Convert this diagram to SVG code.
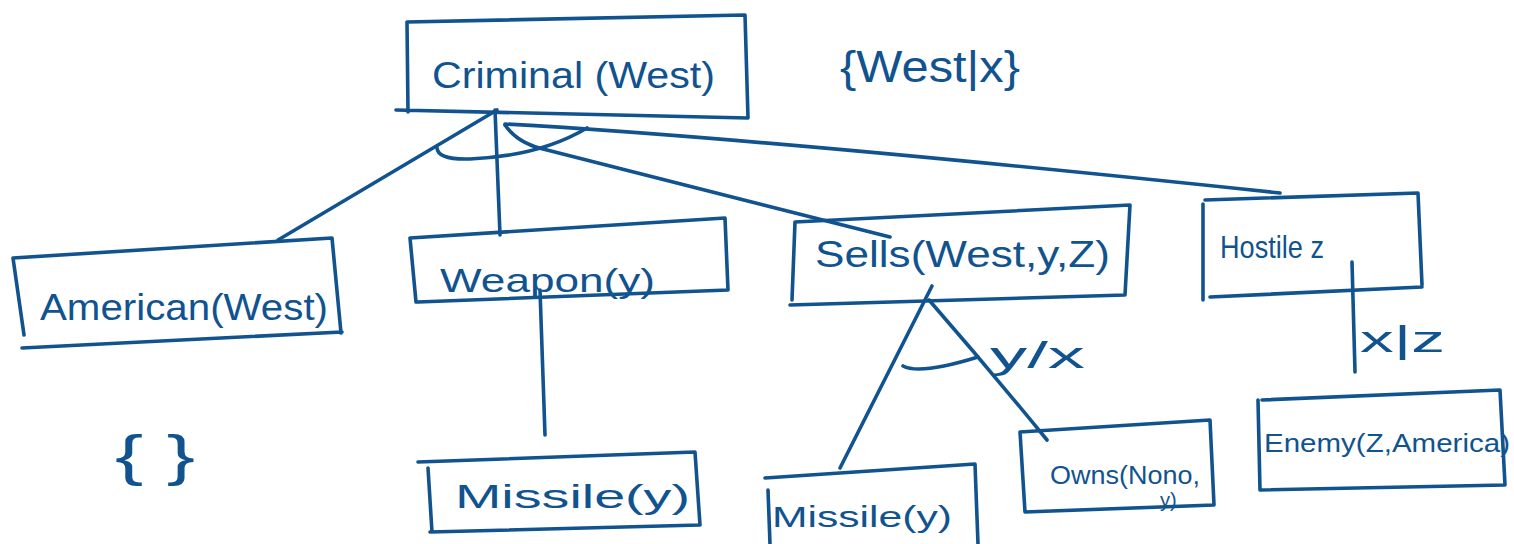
<svg xmlns="http://www.w3.org/2000/svg" width="1514" height="544" viewBox="0 0 1514 544">
  <style>
    .ink { fill: none; stroke: #11538f; stroke-width: 3.6; stroke-linecap: round; stroke-linejoin: round; }
    .lbl { fill: #11538f; font-family: "Liberation Sans", "DejaVu Sans", sans-serif; }
  </style>
  <rect width="1514" height="544" fill="#ffffff"/>

  <!-- connectors -->
  <g id="connectors" class="ink">
    <!-- Criminal(West) to its four conjuncts -->
    <path d="M497,110 L278,240"/>
    <path d="M495,110 L500,235"/>
    <path d="M505,125 Q518,144 547,150 L890,237"/>
    <path d="M505,124 Q760,138 1280,193"/>
    <!-- AND arc -->
    <path d="M437,148 Q438,160 470,159 Q540,156 587,128"/>
    <!-- Weapon(y) to Missile(y) -->
    <path d="M540,290 L545,435"/>
    <!-- Sells to Missile(y) and Owns(Nono,y) -->
    <path d="M932,286 L840,468"/>
    <path d="M929,300 Q990,370 1047,440"/>
    <path d="M903,366 Q920,375 978,357"/>
    <!-- Hostile z to Enemy -->
    <path d="M1352,262 L1355,372"/>
  </g>

  <g id="criminal">
    <path class="ink" d="M407,22 L745,15 L748,118 M396,110 L748,118 M407,22 L408,112"/>
    <text class="lbl" x="432" y="88" font-size="36" textLength="283" lengthAdjust="spacingAndGlyphs">Criminal (West)</text>
  </g>

  <g id="subst-top">
    <text class="lbl" x="840" y="82" font-size="44" textLength="180" lengthAdjust="spacingAndGlyphs">{West|x}</text>
  </g>

  <g id="american">
    <path class="ink" d="M13,258 L332,238 L341,333 M22,348 L342,332 M13,258 L24,335"/>
    <text class="lbl" x="40" y="320" font-size="36" textLength="288" lengthAdjust="spacingAndGlyphs">American(West)</text>
  </g>

  <g id="weapon">
    <path class="ink" d="M410,238 L725,218 L728,290 M418,302 L728,290 M410,238 L416,302"/>
    <text class="lbl" x="440" y="292" font-size="34" textLength="215" lengthAdjust="spacingAndGlyphs">Weapon(y)</text>
  </g>

  <g id="sells">
    <path class="ink" d="M795,222 L1130,205 L1125,295 M790,305 L1125,295 M795,222 L792,300"/>
    <text class="lbl" x="815" y="267" font-size="36" textLength="295" lengthAdjust="spacingAndGlyphs">Sells(West,y,Z)</text>
  </g>

  <g id="hostile">
    <path class="ink" d="M1205,200 L1418,193 L1422,285 M1210,297 L1422,287 M1203,204 L1203,300"/>
    <text class="lbl" x="1220" y="258" font-size="32" textLength="104" lengthAdjust="spacingAndGlyphs">Hostile z</text>
  </g>

  <g id="subst-empty">
    <text class="lbl" x="115" y="474" font-size="56" textLength="80" lengthAdjust="spacingAndGlyphs">{ }</text>
  </g>

  <g id="missile-1">
    <path class="ink" d="M418,462 L695,452 L700,525 M430,532 L700,525 M428,468 L432,532"/>
    <text class="lbl" x="455" y="508" font-size="34" textLength="235" lengthAdjust="spacingAndGlyphs">Missile(y)</text>
  </g>

  <g id="subst-yx">
    <text class="lbl" x="990" y="368" font-size="36" textLength="95" lengthAdjust="spacingAndGlyphs">y/x</text>
  </g>

  <g id="missile-2">
    <path class="ink" d="M765,478 L975,464 L978,544 M768,490 L770,544"/>
    <text class="lbl" x="772" y="527" font-size="30" textLength="180" lengthAdjust="spacingAndGlyphs">Missile(y)</text>
  </g>

  <g id="owns">
    <path class="ink" d="M1020,432 L1210,420 L1214,505 M1025,512 L1214,505 M1020,432 L1025,512"/>
    <text class="lbl" x="1050" y="484" font-size="26" textLength="150" lengthAdjust="spacingAndGlyphs">Owns(Nono,</text>
    <text class="lbl" x="1160" y="507" font-size="20">y)</text>
  </g>

  <g id="subst-xz">
    <text class="lbl" x="1360" y="352" font-size="36" textLength="85" lengthAdjust="spacingAndGlyphs">x|z</text>
  </g>

  <g id="enemy">
    <path class="ink" d="M1262,400 L1500,390 L1505,485 M1260,490 L1505,485 M1258,400 L1260,490"/>
    <text class="lbl" x="1264" y="452" font-size="26" textLength="246" lengthAdjust="spacingAndGlyphs">Enemy(Z,America)</text>
  </g>
</svg>
